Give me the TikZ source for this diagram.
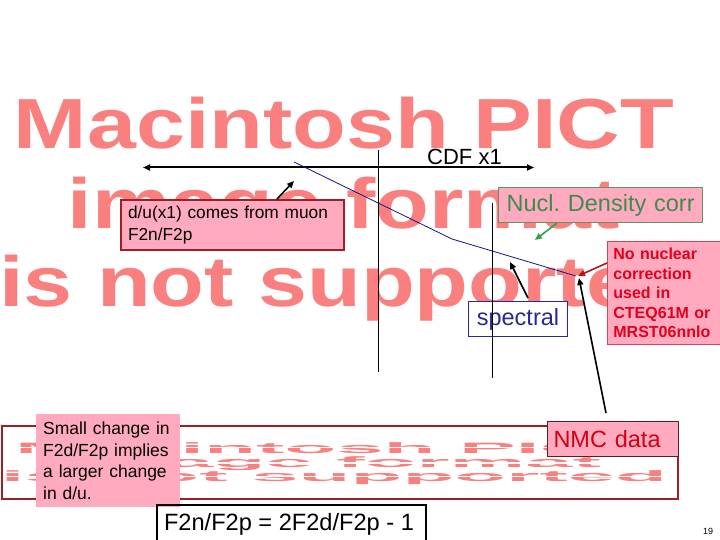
\documentclass[tikz,border=0pt]{standalone}
\usepackage{fontspec}
\setmainfont{Liberation Sans}
\usetikzlibrary{arrows.meta}
\frenchspacing
\definecolor{salmon}{RGB}{250,128,128}
\definecolor{pinkfill}{RGB}{255,170,190}
\definecolor{darkred}{RGB}{160,30,40}
\definecolor{boxgreen}{RGB}{90,150,100}
\definecolor{txtgreen}{RGB}{60,140,80}
\definecolor{arrgreen}{RGB}{50,160,80}
\definecolor{specblue}{RGB}{40,40,150}
\definecolor{navyline}{RGB}{20,20,140}
\definecolor{redtxt}{RGB}{225,0,30}
\definecolor{nmcred}{RGB}{210,0,20}
\definecolor{nmcborder}{RGB}{90,30,40}
\definecolor{nonucborder}{RGB}{210,70,90}
\definecolor{redarrow}{RGB}{180,20,30}
\begin{document}
\begin{tikzpicture}[x=1pt,y=1pt,
  bigtxt/.style={text=salmon, font=\fontsize{71}{71}\selectfont\bfseries, xscale=1.24, anchor=base, inner sep=0},
  smalltxt/.style={text=salmon, font=\fontsize{15}{15}\selectfont\bfseries, xscale=5.67, anchor=base, inner sep=0},
  tipped/.style={-{Triangle[length=7pt,width=6pt]}, line width=1.6},
  boxbase/.style={anchor=north west, inner ysep=0, align=left},
]
\useasboundingbox (0,0) rectangle (720,-540);
\fill[white] (0,0) rectangle (720,-540);

% placeholder text (large)
\node[bigtxt] (big1) at (344,-149) {Macintosh PICT};
\node[bigtxt] (big2) at (344,-229) {image format};
\node[bigtxt] (big3) at (344,-306) {is not supported};

% placeholder (small, framed)
\node[draw=darkred, line width=2, minimum width=676, minimum height=73, anchor=north west, inner sep=0] (pictbox) at (1,-425) {};
\node[smalltxt] (small1) at (334,-453) {Macintosh PICT};
\node[smalltxt] (small2) at (334,-467) {image format};
\node[smalltxt] (small3) at (334,-481) {is not supported};
\foreach \yy in {447.5,463,476.5} \draw[white, line width=1.6] (3,-\yy) -- (674,-\yy);

% double arrow and CDF label
\coordinate (arrL) at (143,-167.5);
\coordinate (arrR) at (534,-167.5);
\draw[{Triangle[length=7pt,width=6pt]}-{Triangle[length=7pt,width=6pt]}, line width=2] (arrL) -- (arrR);
\node[anchor=base west, inner sep=0, font=\fontsize{22}{22}\selectfont] (cdf) at (427,-165) {CDF x1};

% navy curve
\coordinate (c1) at (294,-162);
\coordinate (c2) at (452,-239);
\coordinate (c3) at (576,-276);
\draw[navyline, line width=0.8] (c1) -- (c2) -- (c3);

% boxes
\node[boxbase, fill=pinkfill, draw=darkred, line width=2, text width=209, inner xsep=7, minimum height=50,
      font=\fontsize{17.3}{22}\selectfont] (dubox) at (120,-199) {d/u(x1) comes from muon\\F2n/F2p};
\node[boxbase, fill=pinkfill, draw=boxgreen, line width=1.2, text width=204, inner xsep=0, align=center, minimum height=35,
      text=txtgreen, font=\fontsize{23.5}{23.5}\selectfont] (nucl) at (498,-187) {Nucl. Density corr};
\node[boxbase, fill=white, draw=specblue, line width=1, text width=99, inner xsep=0, align=center, minimum height=35,
      text=specblue, font=\fontsize{23.5}{23.5}\selectfont] (spec) at (468,-301) {spectral};
\node[boxbase, fill=pinkfill, draw=nonucborder, line width=0.8, text width=108, inner xsep=6, minimum height=103,
      text=redtxt, font=\fontsize{16}{19.5}\selectfont\bfseries] (nonuc) at (607,-241) {No nuclear\\correction\\used in\\CTEQ61M or\\MRST06nnlo};
\node[boxbase, fill=pinkfill, draw=nmcborder, line width=1, text width=119, inner xsep=6, minimum height=35,
      text=nmcred, font=\fontsize{23.5}{23.5}\selectfont] (nmc) at (547,-421) {NMC data};
\node[boxbase, fill=pinkfill, text width=130, inner xsep=7, minimum height=93,
      font=\fontsize{17.5}{21.5}\selectfont] (small) at (36,-414) {Small change in\\F2d/F2p implies\\a larger change\\in d/u.};
\node[draw, line width=2, anchor=north west, minimum width=269, minimum height=50, inner sep=0] (eqbox) at (156,-504) {};
\node[anchor=base, inner sep=0, font=\fontsize{23.6}{23.6}\selectfont] (eq) at (289,-530) {F2n/F2p = 2F2d/F2p - 1};

% vertical lines
\coordinate (v1t) at (378,-150);
\coordinate (v1b) at (378,-372);
\coordinate (v2t) at (492,-203);
\coordinate (v2b) at (492,-378);
\draw[line width=1] (v1t) -- (v1b);
\draw[line width=1] (v2t) -- (v2b);

% arrows
\coordinate (duT) at (277,-199);
\coordinate (duH) at (294,-181);
\draw[tipped] (duT) -- (duH);
\coordinate (gT) at (557,-223);
\coordinate (gH) at (535,-240);
\draw[tipped, arrgreen] (gT) -- (gH);
\coordinate (sT) at (528,-298);
\coordinate (sH) at (510,-262);
\draw[tipped] (sT) -- (sH);
\coordinate (rT) at (607,-263);
\coordinate (rH) at (578,-276);
\draw[tipped, redarrow] (rT) -- (rH);
\coordinate (nT) at (606,-413);
\coordinate (nH) at (579,-278);
\draw[tipped] (nT) -- (nH);

% page number
\node[font=\fontsize{9}{9}\selectfont, inner sep=0] (pg) at (708,-531) {19};
\end{tikzpicture}
\end{document}
